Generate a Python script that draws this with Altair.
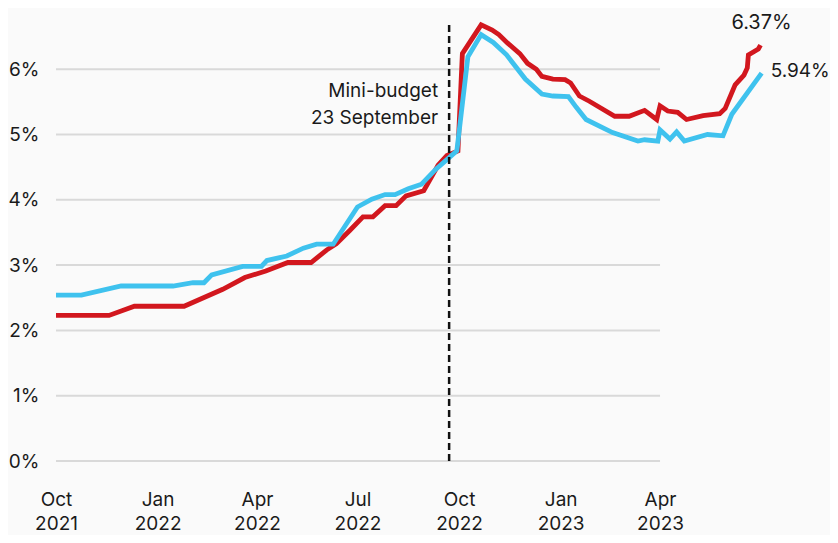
import altair as alt
import pandas as pd

# ---- data ----
red_dates = ["2021-10-01", "2021-11-18", "2021-12-11", "2022-01-25", "2022-03-01", "2022-03-21",
             "2022-04-09", "2022-04-29", "2022-05-20", "2022-06-03", "2022-06-12", "2022-06-24",
             "2022-07-06", "2022-07-15", "2022-07-26", "2022-08-05", "2022-08-14", "2022-08-30",
             "2022-09-12", "2022-09-20", "2022-09-30", "2022-10-04", "2022-10-21", "2022-10-31",
             "2022-11-06", "2022-11-14", "2022-11-25", "2022-12-02", "2022-12-10", "2022-12-15",
             "2022-12-25", "2023-01-05", "2023-01-10", "2023-01-18", "2023-01-27", "2023-02-19",
             "2023-03-04", "2023-03-18", "2023-03-29", "2023-04-01", "2023-04-08", "2023-04-17",
             "2023-04-25", "2023-05-10", "2023-05-25", "2023-05-30", "2023-06-08", "2023-06-16",
             "2023-06-19", "2023-06-20", "2023-06-29", "2023-07-01"]
red_values = [2.23, 2.23, 2.37, 2.37, 2.63, 2.81,
              2.91, 3.04, 3.04, 3.23, 3.33, 3.53,
              3.74, 3.74, 3.91, 3.91, 4.06, 4.14,
              4.53, 4.68, 4.75, 6.24, 6.68, 6.60,
              6.53, 6.40, 6.24, 6.09, 6.00, 5.89,
              5.85, 5.84, 5.79, 5.59, 5.51, 5.28,
              5.28, 5.37, 5.23, 5.44, 5.36, 5.34,
              5.23, 5.29, 5.32, 5.40, 5.76, 5.91,
              6.02, 6.22, 6.31, 6.37]

blue_dates = ["2021-10-01", "2021-10-24", "2021-11-29", "2022-01-15", "2022-02-02", "2022-02-12",
              "2022-02-19", "2022-03-19", "2022-04-05", "2022-04-10", "2022-04-28", "2022-05-13",
              "2022-05-25", "2022-06-09", "2022-07-01", "2022-07-14", "2022-07-26", "2022-08-04",
              "2022-08-16", "2022-08-28", "2022-09-10", "2022-09-21", "2022-09-29", "2022-10-09",
              "2022-10-21", "2022-11-01", "2022-11-13", "2022-11-30", "2022-12-15", "2022-12-25",
              "2023-01-08", "2023-01-15", "2023-01-24", "2023-02-17", "2023-03-12", "2023-03-18",
              "2023-03-30", "2023-04-01", "2023-04-10", "2023-04-16", "2023-04-23", "2023-05-14",
              "2023-05-28", "2023-06-05", "2023-07-02"]
blue_values = [2.54, 2.54, 2.68, 2.68, 2.73, 2.73,
               2.85, 2.98, 2.98, 3.07, 3.14, 3.26,
               3.32, 3.32, 3.89, 4.01, 4.08, 4.08,
               4.17, 4.24, 4.47, 4.63, 4.75, 6.19,
               6.53, 6.41, 6.22, 5.85, 5.62, 5.59,
               5.58, 5.42, 5.23, 5.03, 4.90, 4.92,
               4.90, 5.07, 4.93, 5.04, 4.90, 5.00,
               4.98, 5.31, 5.94]

y_ticks = [0, 1, 2, 3, 4, 5, 6]
x_tick_dates = [(2021, 10), (2022, 1), (2022, 4), (2022, 7), (2022, 10), (2023, 1), (2023, 4)]
annotation_lines = ["Mini-budget", "23 September"]
end_labels = ["6.37%", "5.94%"]

# ---- styling ----
RED = "#d2171e"
BLUE = "#3fc2ee"
GRID = "#d9d9d9"
TEXT = "#1a1a1a"
FONT = "Inter"


def dt(y, m, d=1):
    return alt.DateTime(year=y, month=m, date=d, utc=True)


red_df = pd.DataFrame({"date": red_dates, "value": red_values})
blue_df = pd.DataFrame({"date": blue_dates, "value": blue_values})
grid_df = pd.DataFrame({"v": y_ticks})
one_row = pd.DataFrame({"k": [0]})

x_scale = alt.Scale(domain=[dt(2021, 10), dt(2023, 9)], nice=False)
y_scale = alt.Scale(domain=[0, 6.8], nice=False, zero=False)

x_axis = alt.Axis(
    values=[dt(y, m) for y, m in x_tick_dates],
    labelExpr="[utcFormat(datum.value, '%b'), utcFormat(datum.value, '%Y')]",
    labelFontSize=19, labelFont=FONT, labelColor=TEXT, labelLineHeight=24,
    labelPadding=29, labelFlush=False, labelOverlap=False,
    domain=False, ticks=False, grid=False, title=None,
)
y_axis = alt.Axis(
    values=y_ticks, labelExpr="datum.value + '%'",
    labelFontSize=19, labelFont=FONT, labelColor=TEXT, labelPadding=17,
    domain=False, ticks=False, grid=False, title=None,
)

grid = alt.Chart(grid_df).mark_rule(color=GRID, strokeWidth=2).encode(
    x=alt.datum(dt(2021, 10), scale=x_scale, type="temporal", axis=x_axis),
    x2=alt.datum(dt(2023, 4)),
    y=alt.Y("v:Q", scale=y_scale, axis=y_axis),
)

red_line = alt.Chart(red_df).mark_line(color=RED, strokeWidth=4.8).encode(
    x=alt.X("date:T", scale=x_scale, axis=x_axis),
    y=alt.Y("value:Q", scale=y_scale, axis=y_axis),
)
blue_line = alt.Chart(blue_df).mark_line(color=BLUE, strokeWidth=4.8).encode(
    x=alt.X("date:T", scale=x_scale, axis=x_axis),
    y=alt.Y("value:Q", scale=y_scale, axis=y_axis),
)

budget_rule = alt.Chart(one_row).mark_rule(color="#111111", strokeWidth=2.5, strokeDash=[7, 4]).encode(
    x=alt.datum(dt(2022, 9, 22)),
    y=alt.datum(0),
    y2=alt.datum(6.7),
)

annotation = alt.Chart(one_row).mark_text(
    align="right", baseline="middle", dx=-11, fontSize=19, font=FONT, color=TEXT, lineHeight=27
).encode(
    x=alt.datum(dt(2022, 9, 22)),
    y=alt.datum(5.67),
    text=alt.value(annotation_lines),
)

red_label = alt.Chart(one_row).mark_text(
    align="center", baseline="middle", dx=1, fontSize=20, font=FONT, color=TEXT
).encode(
    x=alt.datum(dt(2023, 7, 1)),
    y=alt.datum(6.71),
    text=alt.value(end_labels[0]),
)
blue_label = alt.Chart(one_row).mark_text(
    align="left", baseline="middle", dx=9, fontSize=19, font=FONT, color=TEXT
).encode(
    x=alt.datum(dt(2023, 7, 2)),
    y=alt.datum(5.97),
    text=alt.value(end_labels[1]),
)

chart = (
    alt.layer(grid, red_line, blue_line, budget_rule, annotation, red_label, blue_label)
    .properties(
        width=773, height=444,
        autosize=alt.AutoSizeParams(type="none"),
        padding={"left": 48, "top": 9, "right": 1, "bottom": 74},
        background="#fafafa",
    )
    .configure_view(strokeWidth=0)
)

chart.save("out.html", embed_options={"renderer": "svg", "actions": False})
